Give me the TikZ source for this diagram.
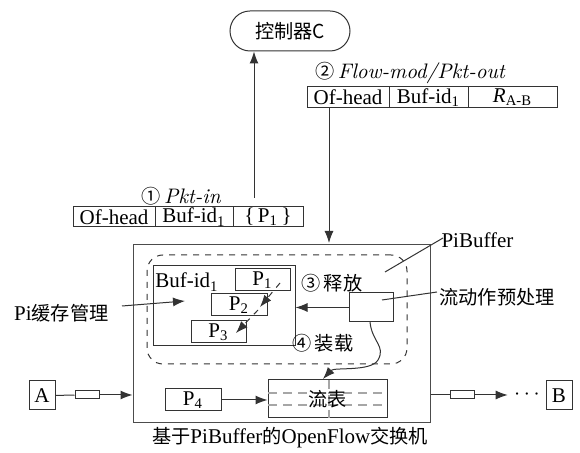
\documentclass[tikz,border=0pt]{standalone}
\usepackage{fontspec}
\newfontfamily\lib{Liberation Serif}
\newfontfamily\cjk{Noto Sans CJK SC}
\usetikzlibrary{arrows.meta}
\newcommand\zh[1]{{\cjk\fontsize{9.6}{11}\selectfont #1}}
\tikzset{
  base/.style={inner sep=0pt, font=\lib\fontsize{10.5}{12}\selectfont},
  box/.style={base, draw=black!80, rectangle},
  arr/.style={-{Latex[length=6pt,width=4.5pt]}},
  ln/.style={draw=black!80, line width=0.5pt},
  fdash/.style={draw=black!35, line width=0.6pt, dash pattern=on 4.5pt off 3pt},
}
\begin{document}
\begin{tikzpicture}[x=0.5pt,y=-0.5pt, line width=0.5pt]
\useasboundingbox (0,0) rectangle (580,453);

% controller
\node[box, rounded corners=10pt, minimum width=60pt, minimum height=20pt] (ctrl) at (290,31) {\zh{控制器C}};

% message 1
\node[base] (lab1) at (181,196) {\zh{①}\,{\rmfamily\itshape Pkt-in}};
\node[box, minimum width=41pt, minimum height=10pt] (t1a) at (114,217) {Of-head};
\node[box, minimum width=39pt, minimum height=10pt] (t1b) at (194,217) {Buf-id\textsubscript{1}};
\node[box, minimum width=35pt, minimum height=10pt] (t1c) at (268,217) {\{\,P\textsubscript{1}\,\}};

% message 2
\node[base] (lab2) at (410,73) {\zh{②}\,{\rmfamily\itshape Flow-mod/Pkt-out}};
\node[box, minimum width=41pt, minimum height=10.5pt] (t2a) at (348,97.5) {Of-head};
\node[box, minimum width=39.5pt, minimum height=10.5pt] (t2b) at (428.5,97.5) {Buf-id\textsubscript{1}};
\node[box, minimum width=44.5pt, minimum height=10.5pt] (t2c) at (512.5,97.5) {\textit{R}\textsubscript{A-B}};

% switch
\node[box, draw=black!70, minimum width=148.5pt, minimum height=89pt] (outer) at (281.5,334) {};
\node[box, dashed, rounded corners=8pt, minimum width=130pt, minimum height=54.5pt] (pib) at (277,309.5) {};
\node[box, minimum width=71pt, minimum height=40pt] (buf) at (224,306) {};
\node[base] (bufid) at (187,282) {Buf-id\textsubscript{1}};
\node[box, minimum width=27.5pt, minimum height=11pt] (p1) at (262.5,280) {P\textsubscript{1}};
\node[box, minimum width=28pt, minimum height=11pt] (p2) at (239,305) {P\textsubscript{2}};
\node[box, minimum width=27.5pt, minimum height=11pt] (p3) at (218.5,332) {P\textsubscript{3}};
\node[box, minimum width=22pt, minimum height=14.5pt] (pre) at (371,307.5) {};
\node[base] (rel) at (332,283) {\zh{③\,释放}};
\node[base] (load) at (323,343) {\zh{④\,装载}};

% flow table
\node[box, minimum width=59.5pt, minimum height=19pt] (flow) at (327.5,399) {};
\draw[fdash] (268,393) -- (387,393);
\draw[fdash] (268,405) -- (387,405);
\draw[fdash] (329,380) -- (329,418);
\node[base] (flowtxt) at (327.5,399) {\zh{流表}};
\node[box, minimum width=28pt, minimum height=11pt] (p4) at (193,400) {P\textsubscript{4}};

% A / B
\node[box, minimum width=13pt, minimum height=14.5pt] (A) at (42,395.5) {A};
\node[box, minimum width=13pt, minimum height=14.5pt] (B) at (559,395.5) {B};
\node[box, minimum width=12pt, minimum height=4pt] (sA) at (87,395) {};
\node[box, minimum width=12pt, minimum height=4pt] (sB) at (462,395) {};
\node[base, inner sep=3pt] (dots) at (527,395) {$\cdots$};

% side labels
\node[base, anchor=west] (pibl) at (441,240) {PiBuffer};
\node[base, anchor=west] (prepl) at (439,297) {\zh{流动作预处理}};
\node[base, anchor=east] (piml) at (109,313) {Pi\zh{缓存管理}};
\node[base] (cap) at (290,438) {\zh{基于}PiBuffer\zh{的}OpenFlow\zh{交换机}};

% coordinates
\coordinate (u) at (254,198);
\coordinate (d) at (329,243);
\coordinate (pibA) at (443,238);
\coordinate (pibB) at (385,272);
\coordinate (prA) at (437,292);
\coordinate (prB) at (382,300);
\coordinate (pmA) at (122,306);
\coordinate (pmB) at (185,301);
\coordinate (da1) at (280,283);
\coordinate (da2) at (260,307);
\coordinate (db1) at (258,310);
\coordinate (db2) at (236,333);
\coordinate (cs) at (370,322);
\coordinate (ce) at (323,379);

% connectors
\draw[ln, arr] (u) -- (u |- ctrl.south);
\draw[ln, arr] (d |- t2a.south) -- (d);
\draw[ln] (pibA) -- (pibB);
\draw[ln] (prA) -- (prB);
\draw[ln, arr] (pmA) -- (pmB);
\draw[ln, arr, dashed] (da1) -- (da2);
\draw[ln, arr, dashed] (db1) -- (db2);
\draw[ln, arr] (pre.west) -- (pre.west -| buf.east);
\draw[ln, arr] (cs) .. controls (372,342) and (386,346) .. (378,360) .. controls (371,372) and (334,367) .. (ce);
\draw[ln, arr] (p4) -- (flow.west |- p4);
\draw[ln] (A) -- (sA);
\draw[ln, arr] (sA) -- (sA -| outer.west);
\draw[ln] (sB -| outer.east) -- (sB);
\draw[ln, arr] (sB) -- (dots.west);
\end{tikzpicture}
\end{document}
